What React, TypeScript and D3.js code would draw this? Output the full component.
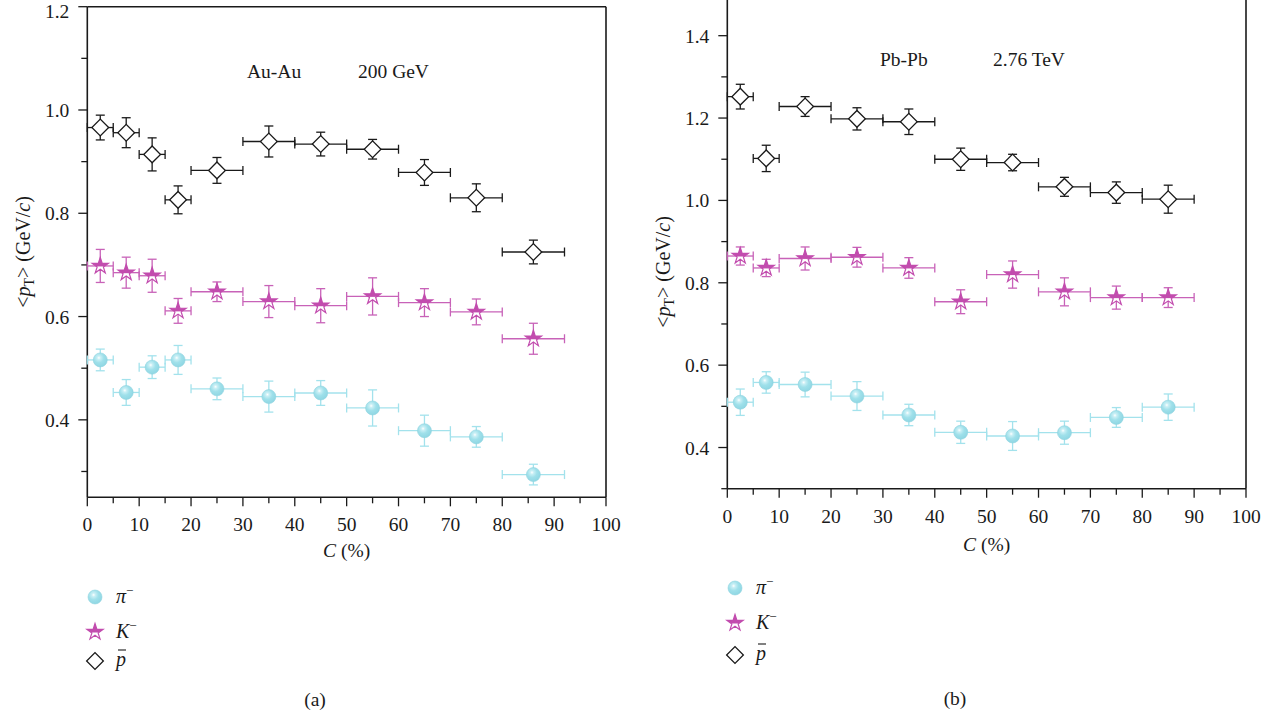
import React from "react";
import * as d3 from "d3";

// ---------- Data: Au-Au 200 GeV ----------
const auX = [2.5, 7.5, 12.5, 17.5, 25, 35, 45, 55, 65, 75, 86];
const auXLo = [0, 5, 10, 15, 20, 30, 40, 50, 60, 70, 80];
const auXHi = [5, 10, 15, 20, 30, 40, 50, 60, 70, 80, 92];
const auPi = [0.516, 0.453, 0.502, 0.516, 0.46, 0.445, 0.452, 0.423, 0.379, 0.367, 0.294];
const auPiErr = [0.021, 0.025, 0.022, 0.028, 0.021, 0.03, 0.024, 0.035, 0.03, 0.02, 0.02];
const auK = [0.698, 0.685, 0.679, 0.611, 0.648, 0.629, 0.621, 0.639, 0.627, 0.609, 0.557];
const auKErr = [0.032, 0.03, 0.032, 0.024, 0.019, 0.031, 0.033, 0.036, 0.027, 0.025, 0.03];
const auPbar = [0.966, 0.956, 0.914, 0.826, 0.883, 0.939, 0.934, 0.924, 0.879, 0.83, 0.725];
const auPbarErr = [0.024, 0.029, 0.032, 0.027, 0.025, 0.03, 0.023, 0.019, 0.025, 0.027, 0.023];

// ---------- Data: Pb-Pb 2.76 TeV ----------
const pbX = [2.5, 7.5, 15, 25, 35, 45, 55, 65, 75, 85];
const pbXLo = [0, 5, 10, 20, 30, 40, 50, 60, 70, 80];
const pbXHi = [5, 10, 20, 30, 40, 50, 60, 70, 80, 90];
const pbPi = [0.51, 0.558, 0.553, 0.525, 0.479, 0.437, 0.428, 0.436, 0.473, 0.498];
const pbPiErr = [0.032, 0.026, 0.03, 0.035, 0.026, 0.027, 0.035, 0.028, 0.024, 0.032];
const pbK = [0.865, 0.836, 0.859, 0.862, 0.836, 0.754, 0.82, 0.778, 0.764, 0.764];
const pbKErr = [0.022, 0.021, 0.028, 0.024, 0.025, 0.029, 0.033, 0.034, 0.028, 0.024];
const pbPbar = [1.252, 1.102, 1.228, 1.198, 1.191, 1.1, 1.092, 1.033, 1.019, 1.003];
const pbPbarErr = [0.03, 0.032, 0.024, 0.027, 0.031, 0.027, 0.02, 0.023, 0.026, 0.034];

const xMajor = d3.range(0, 101, 10);
const xMinor = d3.range(5, 100, 10);
const auYMajor = [0.4, 0.6, 0.8, 1.0, 1.2];
const auYMinor = [0.3, 0.5, 0.7, 0.9, 1.1];
const pbYMajor = [0.4, 0.6, 0.8, 1.0, 1.2, 1.4];
const pbYMinor = [0.3, 0.5, 0.7, 0.9, 1.1, 1.3];

const CYAN_ERR = "#a3e2ec";
const MAG = "#c24cae";
const MAG_ERR = "#c862b8";
const INK = "#1a1a1a";
const FONT = "'Liberation Serif', 'DejaVu Serif', serif";
const FS = 19.5;

const starPath = d3.symbol().type(d3.symbolStar).size(82)()!;
const squarePath = d3.symbol().type(d3.symbolSquare).size(140)()!;

type Series = { y: number[]; err: number[]; kind: "pi" | "k" | "p" };

function ErrBars({ xs, lo, hi, ys, err, x, y, color }: any) {
  const cap = 4.5;
  return (
    <g stroke={color} strokeWidth={1.3} fill="none">
      {xs.map((xv: number, i: number) => {
        const cx = x(xv);
        const cy = y(ys[i]);
        const x0 = x(lo[i]);
        const x1 = x(hi[i]);
        const y0 = y(ys[i] + err[i]);
        const y1 = y(ys[i] - err[i]);
        return (
          <g key={i}>
            <line x1={x0} x2={x1} y1={cy} y2={cy} />
            <line x1={x0} x2={x0} y1={cy - cap} y2={cy + cap} />
            <line x1={x1} x2={x1} y1={cy - cap} y2={cy + cap} />
            <line x1={cx} x2={cx} y1={y0} y2={y1} />
            <line x1={cx - cap} x2={cx + cap} y1={y0} y2={y0} />
            <line x1={cx - cap} x2={cx + cap} y1={y1} y2={y1} />
          </g>
        );
      })}
    </g>
  );
}

function Marker({ kind, cx, cy }: { kind: string; cx: number; cy: number }) {
  if (kind === "pi")
    return <circle cx={cx} cy={cy} r={7} fill="url(#ballGrad)" stroke="#8fd3df" strokeWidth={0.6} />;
  if (kind === "k")
    return (
      <path d={starPath} transform={`translate(${cx},${cy})`} fill="url(#starGrad)" stroke={MAG} strokeWidth={1.2} />
    );
  return (
    <path d={squarePath} transform={`translate(${cx},${cy}) rotate(45)`} fill="#fff" stroke={INK} strokeWidth={1.3} />
  );
}

function Panel(props: {
  xRange: [number, number];
  yDomain: [number, number];
  yRange: [number, number];
  yMajor: number[];
  yMinor: number[];
  xs: number[];
  lo: number[];
  hi: number[];
  series: Series[];
  tickLabelY: number;
  ylabelX: number;
  ylabelY: number;
  xlabelY: number;
  ann1: [string, number, number];
  ann2: [string, number, number];
}) {
  const x = d3.scaleLinear().domain([0, 100]).range(props.xRange);
  const y = d3.scaleLinear().domain(props.yDomain).range(props.yRange);
  const [L, R] = props.xRange;
  const [B, T] = props.yRange;
  const fmt = d3.format(".1f");
  return (
    <g fontFamily={FONT} fill={INK}>
      <g stroke={INK} strokeWidth={1.6} fill="none">
        <line x1={L} x2={L} y1={B} y2={T} />
        <line x1={L} x2={R} y1={B} y2={B} />
        <line x1={R} x2={R} y1={B} y2={T} />
        <line x1={L} x2={R} y1={T} y2={T} />
      </g>
      <g stroke={INK} strokeWidth={1.3}>
        {xMajor.map((v) => (
          <line key={"xM" + v} x1={x(v)} x2={x(v)} y1={B} y2={B + 9} />
        ))}
        {xMinor.map((v) => (
          <line key={"xm" + v} x1={x(v)} x2={x(v)} y1={B} y2={B + 6} />
        ))}
        {props.yMajor.map((v) => (
          <line key={"yM" + v} x1={L - 9} x2={L} y1={y(v)} y2={y(v)} />
        ))}
        {props.yMinor.map((v) => (
          <line key={"ym" + v} x1={L - 6} x2={L} y1={y(v)} y2={y(v)} />
        ))}
      </g>
      <g fontSize={FS} textAnchor="middle" stroke="none">
        {xMajor.map((v) => (
          <text key={"xl" + v} x={x(v)} y={props.tickLabelY}>
            {v}
          </text>
        ))}
      </g>
      <g fontSize={FS} textAnchor="end" stroke="none">
        {props.yMajor.map((v) => (
          <text key={"yl" + v} x={L - 18} y={Math.max(y(v) + 7, 18)}>
            {fmt(v)}
          </text>
        ))}
      </g>
      <text x={(L + R) / 2} y={props.xlabelY} fontSize={FS} textAnchor="middle">
        <tspan fontStyle="italic">C</tspan> (%)
      </text>
      <text
        transform={`translate(${props.ylabelX},${props.ylabelY}) rotate(-90)`}
        fontSize={FS + 0.5}
        textAnchor="middle"
      >
        {"<"}
        <tspan fontStyle="italic">p</tspan>
        <tspan fontSize={14} dy={4}>T</tspan>
        <tspan dy={-4}>{"> (GeV/"}</tspan>
        <tspan fontStyle="italic">c</tspan>
        {")"}
      </text>
      <text x={props.ann1[1]} y={props.ann1[2]} fontSize={FS}>
        {props.ann1[0]}
      </text>
      <text x={props.ann2[1]} y={props.ann2[2]} fontSize={FS}>
        {props.ann2[0]}
      </text>
      {props.series.map((s, si) => (
        <g key={si}>
          <ErrBars
            xs={props.xs}
            lo={props.lo}
            hi={props.hi}
            ys={s.y}
            err={s.err}
            x={x}
            y={y}
            color={s.kind === "pi" ? CYAN_ERR : s.kind === "k" ? MAG_ERR : INK}
          />
          {props.xs.map((xv, i) => (
            <Marker key={i} kind={s.kind} cx={x(xv)} cy={y(s.y[i])} />
          ))}
        </g>
      ))}
    </g>
  );
}

function Legend({ x, ys, label }: { x: number; ys: [number, number, number]; label: [string, number, number] }) {
  return (
    <g fontFamily={FONT} fill={INK}>
      <Marker kind="pi" cx={x} cy={ys[0]} />
      <Marker kind="k" cx={x} cy={ys[1]} />
      <Marker kind="p" cx={x} cy={ys[2]} />
      <text x={x + 21} y={ys[0] + 6} fontSize={20}>
        <tspan fontStyle="italic">π</tspan>
        <tspan fontSize={13} dy={-8}>−</tspan>
      </text>
      <text x={x + 21} y={ys[1] + 6} fontSize={20}>
        <tspan fontStyle="italic">K</tspan>
        <tspan fontSize={13} dy={-8}>−</tspan>
      </text>
      <text x={x + 21} y={ys[2] + 5} fontSize={20}>
        <tspan fontStyle="italic">p</tspan>
      </text>
      <line x1={x + 23} x2={x + 31} y1={ys[2] - 11} y2={ys[2] - 11} stroke={INK} strokeWidth={1.1} />
      <text x={label[1]} y={label[2]} fontSize={FS} textAnchor="middle">
        {label[0]}
      </text>
    </g>
  );
}

export default function App() {
  return (
    <svg width={1280} height={718} style={{ position: "absolute", left: 0, top: 0, background: "#fff" }}>
      <defs>
        <radialGradient id="ballGrad" cx="0.4" cy="0.35" r="0.7">
          <stop offset="0" stopColor="#ffffff" />
          <stop offset="0.18" stopColor="#c9eff5" />
          <stop offset="0.5" stopColor="#9fe0ea" />
          <stop offset="1" stopColor="#8dd5e2" />
        </radialGradient>
        <linearGradient id="starGrad" x1="0" y1="0" x2="0" y2="1">
          <stop offset="0" stopColor={MAG} />
          <stop offset="0.55" stopColor={MAG} />
          <stop offset="0.62" stopColor="#ffffff" />
          <stop offset="1" stopColor="#ffffff" />
        </linearGradient>
      </defs>
      <rect x={0} y={0} width={1280} height={718} fill="#fff" />
      <Panel
        xRange={[87.3, 606]}
        yDomain={[0.25, 1.2]}
        yRange={[497.3, 6.7]}
        yMajor={auYMajor}
        yMinor={auYMinor}
        xs={auX}
        lo={auXLo}
        hi={auXHi}
        series={[
          { y: auPi, err: auPiErr, kind: "pi" },
          { y: auK, err: auKErr, kind: "k" },
          { y: auPbar, err: auPbarErr, kind: "p" },
        ]}
        tickLabelY={531}
        ylabelX={30}
        ylabelY={252}
        xlabelY={557}
        ann1={["Au-Au", 247, 78]}
        ann2={["200 GeV", 358, 78]}
      />
      <Panel
        xRange={[727.3, 1246]}
        yDomain={[0.3, 1.5]}
        yRange={[488.7, -5.5]}
        yMajor={pbYMajor}
        yMinor={pbYMinor}
        xs={pbX}
        lo={pbXLo}
        hi={pbXHi}
        series={[
          { y: pbPi, err: pbPiErr, kind: "pi" },
          { y: pbK, err: pbKErr, kind: "k" },
          { y: pbPbar, err: pbPbarErr, kind: "p" },
        ]}
        tickLabelY={523}
        ylabelX={670}
        ylabelY={272}
        xlabelY={551}
        ann1={["Pb-Pb", 880, 66]}
        ann2={["2.76 TeV", 993, 66]}
      />
      <Legend x={95} ys={[597, 632, 661]} label={["(a)", 315, 706]} />
      <Legend x={735} ys={[588, 623, 655]} label={["(b)", 955, 705]} />
    </svg>
  );
}
